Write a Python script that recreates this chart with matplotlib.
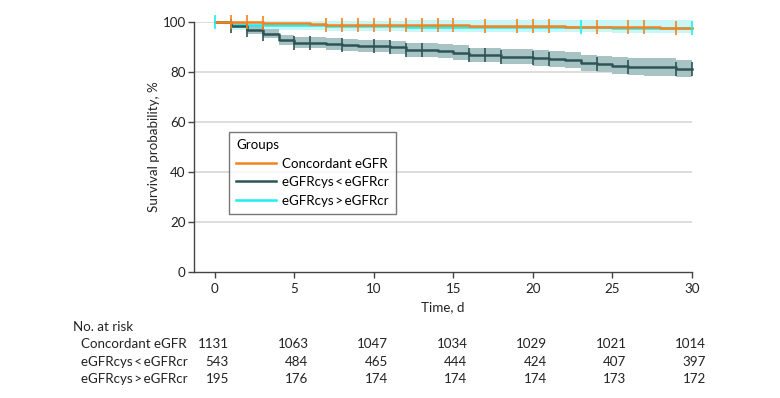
import matplotlib.pyplot as plt
from matplotlib.transforms import blended_transform_factory, ScaledTranslation

plt.rcParams['font.family'] = ['Lato', 'DejaVu Sans']

# Kaplan-Meier estimates (time in days, survival in %)
conc_t = [0, 1, 3, 6, 7, 12, 16, 22, 28, 30]
conc_s = [100, 99.8, 99.6, 99.3, 98.9, 98.7, 98.5, 98.0, 97.6, 97.6]
conc_lo = [100, 99.5, 99.2, 98.8, 98.3, 98.0, 97.8, 97.2, 96.7, 96.7]
conc_hi = [100, 100, 99.9, 99.7, 99.4, 99.3, 99.2, 98.8, 98.5, 98.5]
conc_cens = [1, 2, 3, 7, 8, 9, 10, 11, 12, 13, 14, 15, 17, 19, 20, 21, 24, 26, 27, 29]

low_t = [0, 1, 2, 3, 4, 5, 7, 8, 9, 11, 12, 14, 15, 16, 18, 20, 21, 22, 23, 24, 25, 26, 27, 29, 30]
low_s = [100, 98.5, 96.8, 95.2, 92.8, 91.7, 91.1, 90.8, 90.4, 89.9, 88.8, 88.3, 87.7, 86.8,
         86.1, 85.5, 85.1, 84.6, 83.7, 83.2, 82.5, 82.1, 81.9, 81.3, 81.3]
low_lo = [100, 97.5, 95.3, 93.4, 90.7, 89.4, 88.7, 88.3, 87.9, 87.3, 86.1, 85.5, 84.8, 83.9,
          83.1, 82.4, 82.0, 81.4, 80.5, 79.9, 79.1, 78.6, 78.4, 77.8, 77.8]
low_hi = [100, 99.5, 98.3, 97.0, 94.9, 94.0, 93.5, 93.3, 92.9, 92.5, 91.5, 91.1, 90.6, 89.7,
          89.1, 88.6, 88.2, 87.8, 86.9, 86.5, 85.9, 85.6, 85.4, 84.8, 84.8]
low_cens = [1, 2, 3, 5, 6, 8, 10, 11, 12, 13, 16, 17, 18, 20, 21, 24, 26, 29, 30]

high_t = [0, 1, 7, 12, 25, 30]
high_s = [100, 98.9, 98.5, 98.0, 97.5, 97.5]
high_lo = [100, 96.8, 96.2, 95.8, 95.4, 95.4]
high_hi = [100, 100.4, 100.5, 100.6, 100.7, 100.7]
high_cens = [0, 23, 30]

groups = ['Concordant eGFR', 'eGFRcys\u2009<\u2009eGFRcr', 'eGFRcys\u2009>\u2009eGFRcr']
risk_times = [0, 5, 10, 15, 20, 25, 30]
risk_conc = [1131, 1063, 1047, 1034, 1029, 1021, 1014]
risk_low = [543, 484, 465, 444, 424, 407, 397]
risk_high = [195, 176, 174, 174, 174, 173, 172]

c_orange = '#F58220'
c_dark = '#2E5456'
c_cyan = '#1BEFEF'
fs = 9.6


def step_at(ts, ss, x):
    val = ss[0]
    for t, s in zip(ts, ss):
        if t <= x:
            val = s
    return val


fig = plt.figure(figsize=(7.8, 3.98), dpi=100)
ax = fig.add_axes([194 / 780, 1 - 272 / 398, 498 / 780, 250 / 398])

for y in [20, 40, 60, 80, 100]:
    ax.axhline(y, color='#DDDDDD', lw=1.4, zorder=0)

ax.fill_between(conc_t, conc_lo, conc_hi, step='post', color='#FBD3AE', lw=0, zorder=1)
ax.fill_between(high_t, high_lo, high_hi, step='post', color='#C9F7F7', lw=0, zorder=1, clip_on=False)
ax.fill_between(low_t, low_lo, low_hi, step='post', color='#A8C3C3', lw=0, zorder=1)

ax.step(high_t, high_s, where='post', color=c_cyan, lw=1.8, zorder=2, clip_on=False,
        label=groups[2])
ax.step(low_t, low_s, where='post', color=c_dark, lw=1.8, zorder=3, clip_on=False,
        label=groups[1])
ax.step(conc_t, conc_s, where='post', color=c_orange, lw=1.8, zorder=4, clip_on=False,
        label=groups[0])

for ts, ss, cens, col, z in [(conc_t, conc_s, conc_cens, c_orange, 4),
                             (low_t, low_s, low_cens, c_dark, 3),
                             (high_t, high_s, high_cens, c_cyan, 5)]:
    ax.plot(cens, [step_at(ts, ss, x) for x in cens], ls='none', marker='|',
            ms=10, mew=1.2, color=col, zorder=z, clip_on=False)

ax.set_xlim(-1.32, 30)
ax.set_ylim(0, 100)
ax.set_xticks(risk_times)
ax.set_yticks([0, 20, 40, 60, 80, 100])
ax.spines['top'].set_visible(False)
ax.spines['right'].set_visible(False)
ax.spines['bottom'].set_bounds(-1.32, 30)
for sp in ['left', 'bottom']:
    ax.spines[sp].set_color('#444444')
    ax.spines[sp].set_linewidth(1.0)
ax.tick_params(axis='both', colors='#444444', labelcolor='#222222', labelsize=fs,
               length=4, width=1.0)
ax.tick_params(axis='y', pad=2)
ax.tick_params(axis='x', pad=4)
ax.set_ylabel('Survival probability, %', fontsize=fs, color='#222222', labelpad=2)
ax.set_xlabel('Time, d', fontsize=fs, color='#222222', labelpad=4)

h, l = ax.get_legend_handles_labels()
order = [2, 1, 0]
leg = ax.legend([h[i] for i in order], [l[i] for i in order], title='Groups',
                loc='upper left', bbox_to_anchor=(0.07, 0.56), frameon=True,
                fancybox=False, edgecolor='#555555', fontsize=fs,
                title_fontsize=fs, handlelength=3.0, handletextpad=0.4,
                borderpad=0.55, borderaxespad=0, labelspacing=0.48)
leg._legend_box.align = 'left'
leg.get_frame().set_linewidth(1.0)
for line in leg.get_lines():
    line.set_linewidth(1.8)

# number at risk table
tr = blended_transform_factory(ax.transData, ax.transAxes)
tr_num = tr + ScaledTranslation(0.14, 0, fig.dpi_scale_trans)
fig.text(73 / 780, 1 - 327 / 398, 'No. at risk', fontsize=fs, color='#222222', va='center')
rows = [risk_conc, risk_low, risk_high]
row_y = [344, 362, 379]
for name, vals, py in zip(groups, rows, row_y):
    fig.text(81 / 780, 1 - py / 398, name, fontsize=fs, color='#222222', va='center')
    ay = (272 - py) / 250
    for t, v in zip(risk_times, vals):
        ax.text(t, ay, str(v), transform=tr_num, ha='right', va='center',
                fontsize=fs, color='#222222', clip_on=False)

fig.savefig('out.png', dpi=100)
